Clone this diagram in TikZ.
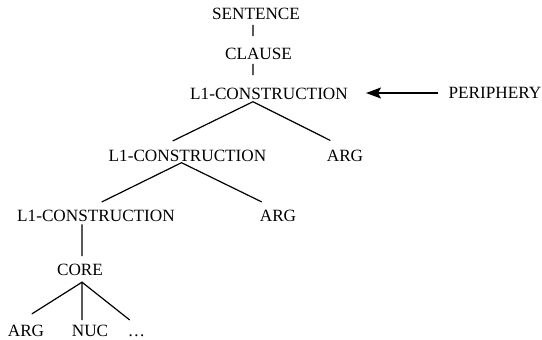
\documentclass[tikz,border=0pt]{standalone}
\usepackage{fontspec}
\setmainfont{Liberation Serif}
\usetikzlibrary{arrows.meta}

\tikzset{
  lbl/.style={anchor=base, inner sep=0pt, text height=12bp, text depth=3bp,
              font=\fontsize{17.26pt}{20pt}\selectfont},
  branch/.style={line width=1.2bp, line cap=round},
  feed/.style={line width=1.8bp, -{Stealth[length=15bp, width=11bp, inset=3bp]}}
}

\begin{document}
\begin{tikzpicture}[x=1bp, y=-1bp]
  \useasboundingbox (0,0) rectangle (542,339);

  % labels of the tree
  \node[lbl] (sent)   at (256,19)    {SENTENCE};
  \node[lbl] (clause) at (258.5,59)  {CLAUSE};
  \node[lbl] (top)    at (269,99)    {L1-CONSTRUCTION};
  \node[lbl] (peri)   at (495,98.5)  {PERIPHERY};
  \node[lbl] (mid)    at (187.5,161.5) {L1-CONSTRUCTION};
  \node[lbl] (argA)   at (345,161.5) {ARG};
  \node[lbl] (low)    at (96,221)    {L1-CONSTRUCTION};
  \node[lbl] (argB)   at (278,221)   {ARG};
  \node[lbl] (core)   at (80,275)    {CORE};
  \node[lbl] (argC)   at (26,336.5)  {ARG};
  \node[lbl] (nuc)    at (90,336.5)  {NUC};
  \node[lbl] (dots)   at (136.5,336.5) {…};

  % unary links
  \draw[branch] ([xshift=-3bp,yshift=-3bp]sent.south) -- ([xshift=-5.5bp,yshift=11bp]clause.north);
  \draw[branch] ([xshift=-5.5bp,yshift=-2bp]clause.south) -- ([xshift=-16bp,yshift=12bp]top.north);

  % top construction
  \draw[branch] ([xshift=-14.5bp,yshift=8.5bp]mid.north) -- ([xshift=-16bp,yshift=0.5bp]top.south)
                -- ([xshift=-15bp,yshift=9bp]argA.north);

  % middle construction
  \draw[branch] ([xshift=6bp,yshift=7bp]low.north) -- ([xshift=-6bp,yshift=2bp]mid.south)
                -- ([xshift=-16.5bp,yshift=7bp]argB.north);

  % lowest construction to core
  \draw[branch] ([xshift=-14bp,yshift=-0.5bp]low.south) -- ([xshift=2bp,yshift=7bp]core.north);

  % core daughters
  \draw[branch] ([xshift=6bp,yshift=10.5bp]argC.north) -- ([xshift=2bp,yshift=-4bp]core.south)
                -- ([xshift=-7bp,yshift=4.5bp]dots.north);
  \draw[branch] ([xshift=2bp,yshift=-4bp]core.south) -- ([xshift=-8bp,yshift=4.5bp]nuc.north);

  % periphery attaches to the top construction
  \draw[feed] ([xshift=-10bp,yshift=1bp]peri.west) -- ([xshift=18bp,yshift=1.5bp]top.east);
\end{tikzpicture}
\end{document}
